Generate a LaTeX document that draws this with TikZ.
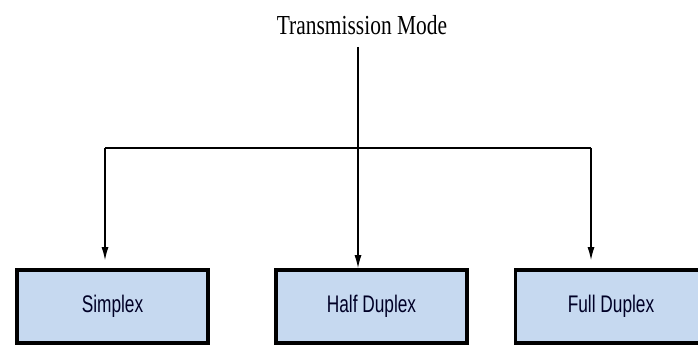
\documentclass[tikz,border=0pt]{standalone}
\usepackage{fontspec}
\newfontfamily\titlefont[FakeStretch=0.78]{Liberation Serif}
\newfontfamily\boxfont[FakeStretch=0.72]{Liberation Sans}
\usepackage{tikz}
\usetikzlibrary{positioning, arrows.meta}
\definecolor{boxblue}{HTML}{C6D9F0}
\tikzstyle{title} = [inner sep=0pt, font=\titlefont\fontsize{27.5}{30}\selectfont]
\tikzstyle{mode} = [rectangle, minimum width=191pt, minimum height=73pt, text centered, draw=black, line width=3.6pt, fill=boxblue, text=black!85!blue, font=\boxfont\fontsize{24}{26}\selectfont]
\tikzstyle{line} = [line width=1.3pt]
\tikzstyle{arrow} = [line width=1.3pt,-{Latex[length=13pt,width=7pt]}]

\begin{document}
\begin{tikzpicture}[x=1pt,y=-1pt]
			\useasboundingbox (0,0) rectangle (698,347);
			\clip (0,0) rectangle (698,347);
			
			\node (transmission) [title] at (362,25) {Transmission Mode};
			\node (simplex) [mode] at (112.5,306.5) {Simplex};
			\node (half) [mode] at (371.5,306.5) {Half Duplex};
			\node (full) [mode] at (611,306.5) {Full Duplex};
			
			% branch points on the bar
			\coordinate (hub) at (358,148);
			\coordinate (lefthub) at (105,148);
			\coordinate (righthub) at (591,148);
			
			\draw [line, shorten <=12pt] (transmission.south -| hub) -- (hub);
			\draw [line] (lefthub) -- (righthub);
			\draw [arrow, shorten >=8pt] (lefthub) -- (lefthub |- simplex.north);
			\draw [arrow] (hub) -- (hub |- half.north);
			\draw [arrow, shorten >=8pt] (righthub) -- (righthub |- full.north);
			
		\end{tikzpicture}
\end{document}
